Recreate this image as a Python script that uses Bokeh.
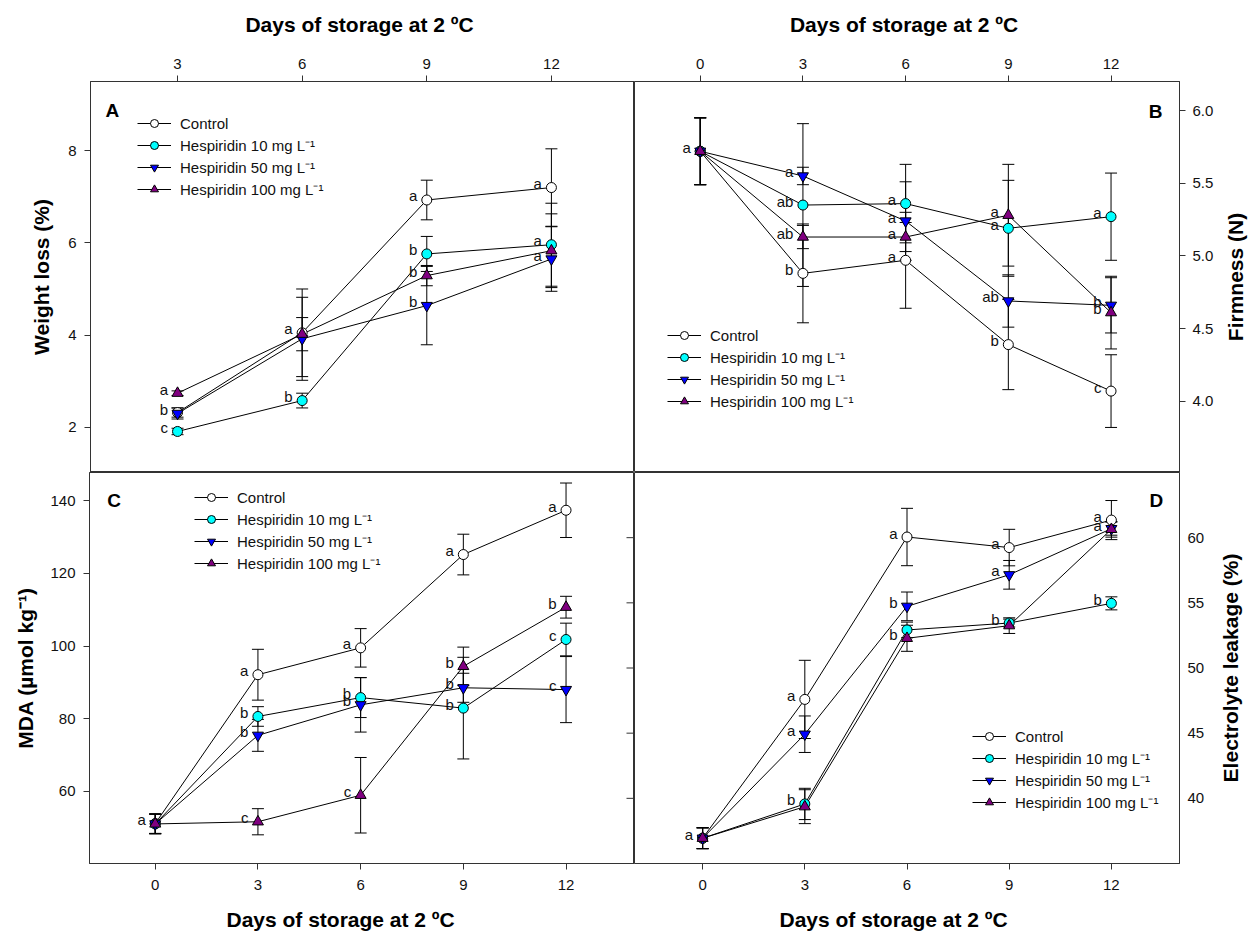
import math
from bokeh.plotting import figure
from bokeh.models import (Range1d, LinearAxis, FixedTicker, Whisker, TeeHead,
                          ColumnDataSource, Legend, LegendItem, Label, PrintfTickFormatter)
from bokeh.layouts import column, row
from bokeh.embed import file_html
from bokeh.resources import INLINE
from bokeh.core.properties import value

FONT = "Liberation Sans"
AXIS_COLOR = "#333333"
X_TITLE = "Days of storage at  2 ºC"

series_labels = ["Control", "Hespiridin 10 mg L⁻¹", "Hespiridin 50 mg L⁻¹", "Hespiridin 100 mg L⁻¹"]

# ---------------- A: weight loss ----------------
days_A = [3, 6, 9, 12]
wl_control = [2.32, 4.05, 6.93, 7.20]
wl_h10 = [1.91, 2.58, 5.76, 5.96]
wl_h50 = [2.30, 3.92, 4.64, 5.65]
wl_h100 = [2.74, 4.02, 5.29, 5.83]
wl_control_err = [0.10, 0.95, 0.43, 0.84]
wl_h10_err = [0.07, 0.16, 0.38, 0.90]
wl_h50_err = [0.12, 0.90, 0.85, 0.70]
wl_h100_err = [0.05, 0.36, 0.22, 0.80]
wl_control_let = ["", "a", "a", "a"]
wl_h10_let = ["c", "b", "b", "a"]
wl_h50_let = ["b", "", "b", "a"]
wl_h100_let = ["a", "", "b", ""]
wl_ticks = [2, 4, 6, 8]
A_xticks = [3, 6, 9, 12]

# ---------------- common days ----------------
days = [0, 3, 6, 9, 12]

# ---------------- B: firmness ----------------
fi_control = [5.72, 4.88, 4.97, 4.39, 4.07]
fi_h10 = [5.72, 5.35, 5.36, 5.19, 5.27]
fi_h50 = [5.72, 5.55, 5.24, 4.69, 4.66]
fi_h100 = [5.72, 5.13, 5.13, 5.28, 4.61]
fi_control_err = [0.23, 0.34, 0.33, 0.31, 0.25]
fi_h10_err = [0.23, 0.56, 0.27, 0.33, 0.30]
fi_h50_err = [0.23, 0.06, 0.27, 0.18, 0.19]
fi_h100_err = [0.23, 0.08, 0.10, 0.35, 0.25]
fi_control_let = ["", "b", "a", "b", "c"]
fi_h10_let = ["", "ab", "a", "a", "a"]
fi_h50_let = ["", "a", "a", "ab", "b"]
fi_h100_let = ["a", "ab", "a", "a", "b"]
fi_ticks = [4.0, 4.5, 5.0, 5.5, 6.0]

# ---------------- C: MDA ----------------
mda_control = [51.1, 92.1, 99.5, 125.2, 137.4]
mda_h10 = [51.0, 80.6, 85.8, 82.9, 101.8]
mda_h50 = [51.0, 75.4, 83.8, 88.5, 88.0]
mda_h100 = [51.0, 51.6, 58.9, 94.4, 110.7]
mda_control_err = [2.7, 7.0, 5.3, 5.6, 7.5]
mda_h10_err = [2.7, 2.7, 5.5, 14.0, 4.5]
mda_h50_err = [2.7, 4.4, 7.5, 4.0, 9.1]
mda_h100_err = [2.7, 3.6, 10.4, 5.3, 3.0]
mda_control_let = ["a", "a", "a", "a", "a"]
mda_h10_let = ["", "b", "b", "b", "c"]
mda_h50_let = ["", "b", "b", "b", "c"]
mda_h100_let = ["", "c", "c", "b", "b"]
mda_ticks = [60, 80, 100, 120, 140]

# ---------------- D: electrolyte leakage ----------------
el_control = [36.94, 47.59, 60.05, 59.24, 61.35]
el_h10 = [36.94, 39.57, 52.92, 53.45, 54.96]
el_h50 = [36.94, 44.92, 54.73, 57.15, 60.69]
el_h100 = [36.94, 39.36, 52.28, 53.25, 60.64]
el_control_err = [0.8, 3.0, 2.2, 1.4, 1.5]
el_h10_err = [0.8, 1.2, 0.6, 0.3, 0.5]
el_h50_err = [0.8, 1.4, 1.1, 1.1, 0.5]
el_h100_err = [0.8, 1.3, 1.0, 0.6, 0.6]
el_control_let = ["a", "a", "a", "a", "a"]
el_h10_let = ["", "b", "", "b", "b"]
el_h50_let = ["", "a", "b", "a", ""]
el_h100_let = ["", "", "b", "", "a"]
el_ticks = [40, 45, 50, 55, 60]
el_side_ticks = [35, 40, 45, 50, 55, 60, 65]

STYLE = [
    dict(marker="circle", fill="white", size=10),
    dict(marker="circle", fill="#00FFFF", size=10),
    dict(marker="inverted_triangle", fill="#0000FF", size=11),
    dict(marker="triangle", fill="#800080", size=11),
]


def panel(width, height, xr, yr, borders, outline=True):
    l, r, t, b = borders
    p = figure(width=width, height=height, x_range=Range1d(*xr), y_range=Range1d(*yr),
               toolbar_location=None, output_backend="svg",
               x_axis_location=None, y_axis_location=None,
               min_border_left=l, min_border_right=r, min_border_top=t, min_border_bottom=b)
    p.grid.visible = False
    p.outline_line_color = AXIS_COLOR if outline else None
    p.outline_line_width = 1
    p.background_fill_color = "white"
    p.border_fill_color = "white"
    return p


def axis(p, side, ticks, title=None, title_standoff=10, tick_out=6, standoff=8, fmt=None):
    ax = LinearAxis(ticker=FixedTicker(ticks=ticks))
    ax.major_tick_out = tick_out
    ax.major_tick_in = 0
    ax.minor_tick_out = 0
    ax.minor_tick_in = 0
    ax.axis_line_color = AXIS_COLOR
    ax.major_tick_line_color = AXIS_COLOR
    ax.major_label_text_font = FONT
    ax.major_label_text_font_size = "15px"
    ax.major_label_text_color = "#111111"
    ax.major_label_standoff = standoff
    if fmt:
        ax.formatter = PrintfTickFormatter(format=fmt)
    if title:
        ax.axis_label = title
        ax.axis_label_text_font = FONT
        ax.axis_label_text_font_size = "21px"
        ax.axis_label_text_font_style = "bold"
        ax.axis_label_text_color = "black"
        ax.axis_label_standoff = title_standoff
    p.add_layout(ax, side)
    return ax


def side_title(width, height, text, top, bottom):
    """Narrow strip holding a vertical axis title that reads bottom-to-top."""
    p = panel(width, height, (0, 1), (0, 1), (0, 0, top, bottom), outline=False)
    p.text(x=[0.5], y=[0.5], text=[text], angle=math.pi / 2, text_align="center",
           text_baseline="middle", text_font=value(FONT), text_font_size="21px",
           text_font_style="bold", text_color="black")
    return p


def bottom_title(width, height, text, cx, cy):
    """Strip under a panel holding its x-axis title (pixel units)."""
    p = panel(width, height, (0, width), (0, height), (0, 0, 0, 0), outline=False)
    p.text(x=[cx], y=[cy], text=[text], text_align="center",
           text_baseline="middle", text_font=value(FONT), text_font_size="21px",
           text_font_style="bold", text_color="black")
    return p


def draw(p, xs, ys_list, err_list, let_list, legend_xy):
    lines, marks = [], []
    for ys in ys_list:
        lines.append(p.line(xs, ys, line_color="black", line_width=1))
    for ys, es in zip(ys_list, err_list):
        src = ColumnDataSource(dict(x=xs,
                                    upper=[y + e for y, e in zip(ys, es)],
                                    lower=[y - e for y, e in zip(ys, es)]))
        p.add_layout(Whisker(source=src, base="x", upper="upper", lower="lower",
                             line_color="black", line_width=1,
                             upper_head=TeeHead(size=12, line_color="black", line_width=1),
                             lower_head=TeeHead(size=12, line_color="black", line_width=1)))
    for ys, st in zip(ys_list, STYLE):
        marks.append(p.scatter(xs, ys, marker=st["marker"], size=st["size"],
                               fill_color=st["fill"], line_color="black", line_width=1))
    tx, ty, tt = [], [], []
    for ys, lets in zip(ys_list, let_list):
        for x, y, s in zip(xs, ys, lets):
            if s:
                tx.append(x)
                ty.append(y)
                tt.append(s)
    p.text(x=tx, y=ty, text=tt, text_align="right", text_baseline="middle",
           x_offset=-9.5, y_offset=-4, text_font=value(FONT), text_font_size="15px",
           text_color="#111111")
    items = [LegendItem(label=lab, renderers=[ln, mk])
             for lab, ln, mk in zip(series_labels, lines, marks)]
    leg = Legend(items=items, location=legend_xy, orientation="vertical",
                 padding=0, margin=0, spacing=2, glyph_width=34, glyph_height=20,
                 label_height=20, label_standoff=9, border_line_color=None,
                 background_fill_alpha=0, label_text_font=FONT,
                 label_text_font_size="15px", label_text_color="#111111")
    p.add_layout(leg)


def letter(p, text, x, y):
    p.add_layout(Label(x=x, y=y, x_units="screen", y_units="screen", text=text,
                       text_align="left", text_baseline="alphabetic",
                       text_font=FONT, text_font_size="19px", text_font_style="bold",
                       text_color="black"))


# ---- Panel A ----
xr_A = (0.905, 14.0)
pA = panel(634, 472, xr_A, (1.02, 9.5), (90, 0, 81, 0))
axis(pA, "above", A_xticks, title=X_TITLE, title_standoff=20, standoff=7)
axis(pA, "left", wl_ticks, title="Weight loss (%)", title_standoff=12, standoff=8)
draw(pA, days_A, [wl_control, wl_h10, wl_h50, wl_h100],
     [wl_control_err, wl_h10_err, wl_h50_err, wl_h100_err],
     [wl_control_let, wl_h10_let, wl_h50_let, wl_h100_let], (47, 273))
letter(pA, "A", 15, 362.5)

# ---- Panel B ----
xr_B = (-1.92, 14.0)
pB = panel(585, 472, xr_B, (3.51, 6.2), (0, 40, 81, 0))
axis(pB, "above", days, title=X_TITLE, title_standoff=20, standoff=7)
axis(pB, "right", fi_ticks, standoff=7, fmt="%.1f")
draw(pB, days, [fi_control, fi_h10, fi_h50, fi_h100],
     [fi_control_err, fi_h10_err, fi_h50_err, fi_h100_err],
     [fi_control_let, fi_h10_let, fi_h50_let, fi_h100_let], (33, 61))
letter(pB, "B", 514.3, 361.3)
pBt = side_title(31, 472, "Firmness (N)", 81, 0)

# ---- Panel C ----
xr_C = (-1.92, 14.0)
pC = panel(634, 425, xr_C, (40.1, 147.8), (89, 0, 0, 34))
pC.extra_y_ranges = {"el": Range1d(35, 65)}
axis(pC, "below", days, standoff=10)
axis(pC, "left", mda_ticks, title="MDA (µmol kg⁻¹)", title_standoff=10, standoff=8)
# tick marks of panel D's left edge, pointing into panel C
pC.scatter(x=[xr_C[1]] * len(el_side_ticks), y=el_side_ticks, marker="dash", size=16,
           line_color=AXIS_COLOR, line_width=1, y_range_name="el")
draw(pC, days, [mda_control, mda_h10, mda_h50, mda_h100],
     [mda_control_err, mda_h10_err, mda_h50_err, mda_h100_err],
     [mda_control_let, mda_h10_let, mda_h50_let, mda_h100_let], (105, 290))
letter(pC, "C", 17.7, 363.3)

# ---- Panel D ----
xr_D = (-2.0, 14.0)
pD = panel(580, 425, xr_D, (35, 65), (0, 35, 0, 34))
axis(pD, "below", days, standoff=10)
axis(pD, "right", el_ticks, tick_out=0, standoff=8)
draw(pD, days, [el_control, el_h10, el_h50, el_h100],
     [el_control_err, el_h10_err, el_h50_err, el_h100_err],
     [el_control_let, el_h10_let, el_h50_let, el_h100_let], (338, 51))
letter(pD, "D", 515, 362.6)
pDt = side_title(32, 425, "Electrolyte leakage (%)", 0, 34)

# ---- bottom x-axis titles ----
tC = bottom_title(634, 35, X_TITLE, 343, 13)
tD = bottom_title(612, 35, X_TITLE, 262, 13)

layout = column(row(pA, pB, pBt), row(pC, pD, pDt), row(tC, tD))
open("out.html", "w").write(file_html(layout, INLINE))
